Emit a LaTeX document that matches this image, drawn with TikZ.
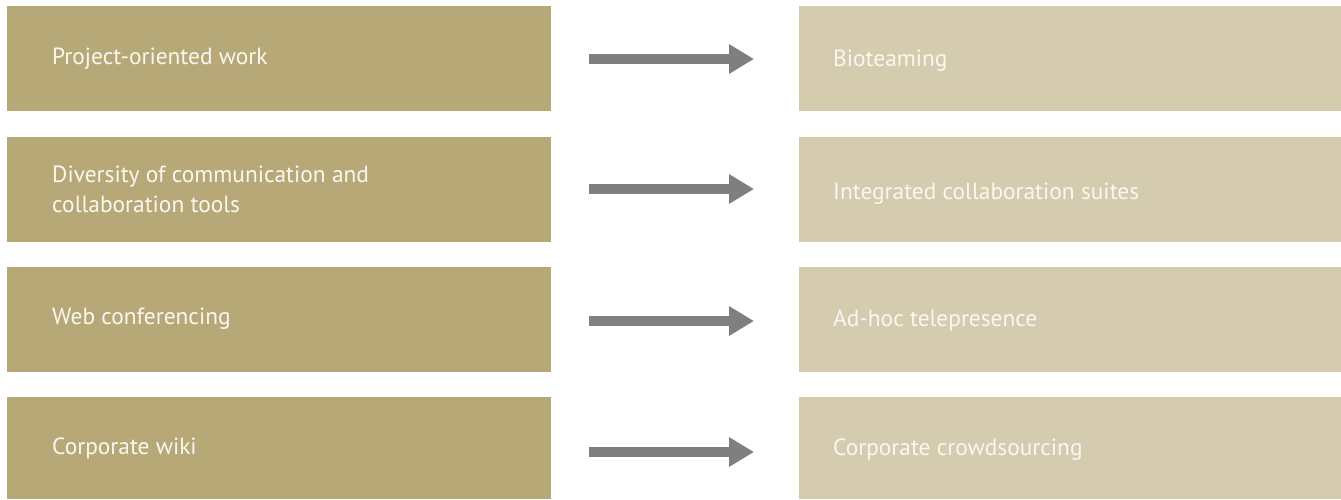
\documentclass[tikz,border=0pt]{standalone}
\usepackage{fontspec}
\setmainfont{PT Sans}
\usetikzlibrary{arrows.meta}
\definecolor{leftcol}{HTML}{B7A877}
\definecolor{rightcol}{HTML}{D5CBAF}
\definecolor{arrcol}{HTML}{7F7F7F}
\definecolor{txtcol}{HTML}{FAF7F0}
\begin{document}
\begin{tikzpicture}[x=1pt,y=-1pt,
  lbox/.style={fill=leftcol, draw=none, inner sep=0pt, anchor=north west, minimum width=544pt, minimum height=105pt},
  rbox/.style={fill=rightcol, draw=none, inner sep=0pt, anchor=north west, minimum width=542pt, minimum height=105pt},
  txt/.style={text=txtcol, inner sep=0pt, anchor=base west, font=\fontsize{23.4}{30}\selectfont},
  arr/.style={draw=arrcol, line width=10pt, -{Triangle[length=25pt 0 0, width=28pt 0 0]}}]
\useasboundingbox (0,0) rectangle (1341,499);
% left boxes
\node[lbox] (l1) at (7,6) {};
\node[lbox] (l2) at (7,137) {};
\node[lbox] (l3) at (7,267) {};
\node[lbox, minimum height=102pt] (l4) at (7,397) {};
% right boxes
\node[rbox] (r1) at (799,6) {};
\node[rbox] (r2) at (799,137) {};
\node[rbox] (r3) at (799,267) {};
\node[rbox, minimum height=102pt] (r4) at (799,397) {};
% texts
\node[txt] (lt1) at (52,64.3) {Project-oriented work};
\node[txt] (lt2a) at (52,182.7) {Diversity of communication and};
\node[txt] (lt2b) at (52,212.7) {collaboration tools};
\node[txt] (lt3) at (52,324) {Web conferencing};
\node[txt] (lt4) at (52,454) {Corporate wiki};
\node[txt] (rt1) at (833,66) {Bioteaming};
\node[txt] (rt2) at (833,199) {Integrated collaboration suites};
\node[txt] (rt3) at (833,326.7) {Ad-hoc telepresence};
\node[txt] (rt4) at (833,455.7) {Corporate crowdsourcing};
% arrows
\coordinate (a1s) at (589,59);  \coordinate (a1e) at (754,59);
\coordinate (a2s) at (589,189); \coordinate (a2e) at (754,189);
\coordinate (a3s) at (589,321); \coordinate (a3e) at (754,321);
\coordinate (a4s) at (589,452); \coordinate (a4e) at (754,452);
\draw[arr] (a1s) -- (a1e);
\draw[arr] (a2s) -- (a2e);
\draw[arr] (a3s) -- (a3e);
\draw[arr] (a4s) -- (a4e);
\end{tikzpicture}
\end{document}
